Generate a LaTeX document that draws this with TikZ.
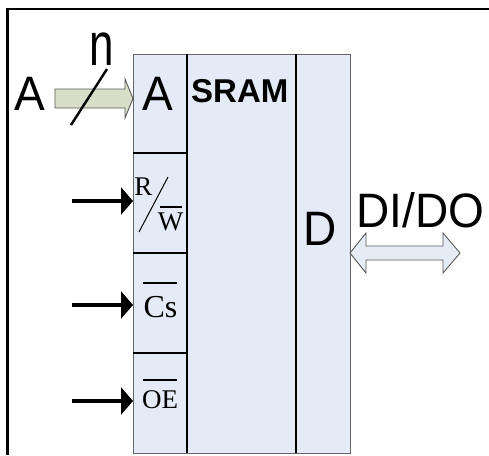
\documentclass[tikz,border=0pt]{standalone}
\usepackage{fontspec}
\setmainfont{Liberation Serif}
\newfontfamily\arialf{Liberation Sans}
\newfontfamily\tnrf{Liberation Serif}
\usetikzlibrary{arrows.meta,calc}
\definecolor{cellblue}{RGB}{228,234,246}
\definecolor{arrblue}{RGB}{230,236,246}
\definecolor{arrgreen}{RGB}{216,222,200}
\tikzset{
  cell/.style={draw=gray!80!black, line width=0.8pt, fill=cellblue, anchor=north west, inner sep=0, outer sep=0},
  divline/.style={line width=2.8pt, black},
  ctrlarrow/.style={line width=3.6pt, -{Triangle[length=12pt,width=27pt]}},
  sanslabel/.style={inner sep=0, anchor=base, font=\arialf\fontsize{46}{46}\selectfont},
  seriflabel/.style={inner sep=0, anchor=base},
  barline/.style={line width=1.4pt},
  blockarrow/.style={draw=gray!70!black, line width=0.9pt}
}
\begin{document}
\begin{tikzpicture}[x=1pt,y=-1pt]
\useasboundingbox (0,0) rectangle (489,455);
% frame
\draw[line width=2.8pt] (489,9) -- (7.5,9) -- (7.5,455);
% cells
\node[cell, minimum width=54, minimum height=99] (acell) at (133,54) {};
\node[cell, minimum width=54, minimum height=100] (rwcell) at (133,153) {};
\node[cell, minimum width=54, minimum height=100] (cscell) at (133,253) {};
\node[cell, minimum width=54, minimum height=100] (oecell) at (133,353) {};
\node[cell, minimum width=109, minimum height=399] (mcell) at (187,54) {};
\node[cell, minimum width=54, minimum height=399] (dcell) at (296,54) {};
% dividers
\draw[divline] (acell.north east) -- (oecell.south east);
\draw[divline] (mcell.north east) -- (mcell.south east);
\draw[divline] (acell.south west) -- (acell.south east);
\draw[divline] (rwcell.south west) -- (rwcell.south east);
\draw[divline] (cscell.south west) -- (cscell.south east);
% labels in cells
\node[sanslabel] (alab) at (157.5,110) {\scalebox{1}[1.05]{A}};
\node[inner sep=0, anchor=base west, font=\arialf\bfseries\fontsize{33}{33}\selectfont] (sram) at (191,102) {SRAM};
\node[sanslabel] (dlab) at (320.5,245) {\scalebox{1}[1.05]{D}};
% outer labels
\node[sanslabel] (aout) at (29.5,110) {\scalebox{1}[1.05]{A}};
\node[sanslabel] (dido) at (420.5,227) {\scalebox{1}[1.05]{DI/DO}};
\node[inner sep=0, anchor=base, font=\arialf\fontsize{44}{44}\selectfont] (nlab) at (102,65) {\scalebox{1}[1.38]{n}};
% input block arrow
\coordinate (ain) at (55,98.5);
\path (acell.west |- ain) coordinate (atip);
\draw[blockarrow, fill=arrgreen] (ain) ++(0,-9.5) -- ($(atip)+(-8,-9.5)$) -- ($(atip)+(-8,-19.5)$) -- (atip) -- ($(atip)+(-8,19.5)$) -- ($(atip)+(-8,9.5)$) -- ($(ain)+(0,9.5)$) -- cycle;
\draw[line width=2.4pt] (71,125) -- (107,69);
% DI/DO double block arrow
\coordinate (dend) at (460,253);
\path (dcell.east |- dend) coordinate (dtip);
\draw[blockarrow, fill=arrblue] (dtip) -- ($(dtip)+(16,-20)$) -- ($(dtip)+(16,-7)$) -- ($(dend)+(-17,-7)$) -- ($(dend)+(-17,-20)$) -- (dend) -- ($(dend)+(-17,20)$) -- ($(dend)+(-17,7)$) -- ($(dtip)+(16,7)$) -- ($(dtip)+(16,20)$) -- cycle;
% control arrows
\coordinate (rwin) at (72,201);
\coordinate (csin) at (72,305);
\coordinate (oein) at (72,401);
\draw[ctrlarrow] (rwin) -- (rwcell.west |- rwin);
\draw[ctrlarrow] (csin) -- (cscell.west |- csin);
\draw[ctrlarrow] (oein) -- (oecell.west |- oein);
% R/W
\node[seriflabel, font=\tnrf\fontsize{27}{27}\selectfont] (rlab) at (143.5,195) {R};
\node[seriflabel, font=\tnrf\fontsize{27}{27}\selectfont] (wlab) at (170.5,230) {W};
\draw[line width=1pt] (139,232) -- (168,177);
\draw[barline] (160,207) -- (182,207);
% Cs
\node[seriflabel, font=\tnrf\fontsize{32}{32}\selectfont] (cslab) at (160.5,317) {Cs};
\draw[barline] (143,283) -- (177,283);
% OE
\node[seriflabel, font=\tnrf\fontsize{27}{27}\selectfont] (oelab) at (160,408) {OE};
\draw[barline] (143,380) -- (177,380);
\end{tikzpicture}
\end{document}
